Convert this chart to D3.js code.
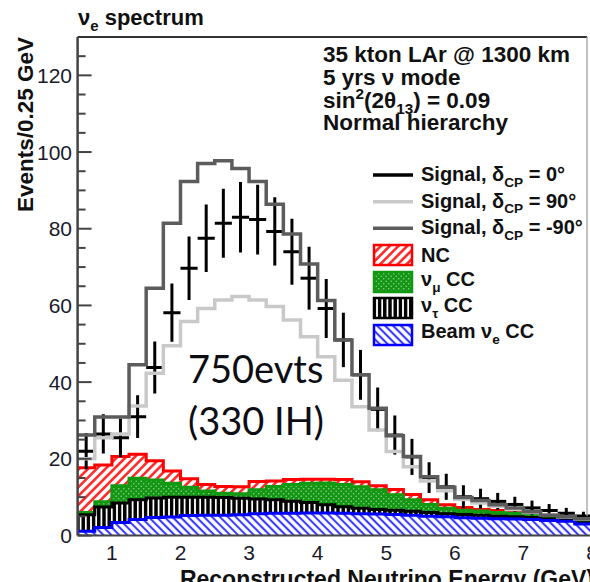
<!DOCTYPE html>
<html><head><meta charset="utf-8">
<script src="https://cdn.jsdelivr.net/npm/d3@7"></script>
<style>body{margin:0;background:#fff} svg{display:block}</style>
</head><body><svg id="c" width="590" height="582"></svg>
<script>
// ---- data ----
const binLow = [0.5,0.75,1.0,1.25,1.5,1.75,2.0,2.25,2.5,2.75,3.0,3.25,3.5,3.75,4.0,4.25,4.5,4.75,5.0,5.25,5.5,5.75,6.0,6.25,6.5,6.75,7.0,7.25,7.5,7.75];
const binWidth = 0.25;
const beamNue = [1.1,2.1,3.4,4.2,4.7,4.8,5.2,5.3,5.3,5.4,5.7,5.8,5.8,5.9,5.9,5.8,5.7,5.6,5.5,5.3,5.0,4.9,4.6,4.5,4.4,4.3,4.2,3.9,3.7,3.0];
const nuTau   = [4.3,5.3,5.1,5.1,5.1,5.2,4.8,4.7,4.6,4.3,3.8,3.5,3.1,2.7,2.1,1.7,1.4,1.2,1.1,1.0,1.0,0.8,0.9,0.8,0.6,0.6,0.5,0.4,0.4,0.3];
const nuMu    = [0.6,1.4,4.5,5.6,4.7,3.6,2.6,1.6,1.1,1.2,2.4,3.5,4.4,5.0,5.7,5.8,5.6,5.1,4.0,3.0,2.1,1.4,1.1,1.1,1.0,0.9,0.8,0.6,0.4,0.3];
const ncBkg   = [11.7,9.6,7.6,6.3,5.0,3.2,2.2,1.7,1.8,1.8,2.2,1.4,1.3,1.1,1.0,1.3,1.3,1.1,1.4,1.4,1.2,0.9,0.7,0.4,0.5,0.4,0.3,0.4,0.1,0.3];
const sigDcp0    = [22.0,26.5,25.5,31.0,43.8,58.1,69.7,77.5,81.4,83.0,82.4,79.3,74.0,67.1,59.2,51.0,41.9,32.9,26.2,20.5,15.1,12.7,10.1,9.6,8.9,8.1,7.2,6.5,5.8,5.1];
const sigDcp0Err = [4.7,5.1,5.0,5.6,6.8,7.6,8.3,8.8,9.0,9.2,9.1,8.9,8.6,8.2,7.7,7.1,6.5,5.7,5.1,4.7,4.0,3.4,3.0,2.6,2.2,2.0,1.9,1.7,1.4,1.1];
const sigDcp90   = [20.0,25.5,26.5,33.8,42.3,49.5,55.8,59.2,61.4,62.3,61.4,59.7,56.2,51.8,46.6,40.5,33.6,27.5,21.9,17.9,14.2,11.7,9.4,8.5,7.6,6.8,6.0,5.3,4.8,4.3];
const sigDcpM90  = [26.2,30.9,30.9,44.5,64.5,81.4,92.3,97.0,97.7,95.7,92.3,86.4,78.6,70.8,61.3,51.0,41.9,33.2,26.0,20.6,15.3,12.6,9.9,9.1,8.0,7.2,6.2,5.3,4.9,4.4];
const yMajorTicks = [0,20,40,60,80,100,120];
const yMinorTicks = [5,10,15,25,30,35,45,50,55,65,70,75,85,90,95,105,110,115,125];
const xMajorTicks = [1,2,3,4,5,6,7,8];
const xTickLabels = ["1","2","3","4","5","6","7","8"];

// ---- setup ----
const svg = d3.select("#c");
const x = d3.scaleLinear().domain([0.5, 8]).range([77.6, 592]);
const y = d3.scaleLinear().domain([0, 130]).range([535.5, 37]);
const ROOTF = "'Liberation Sans', Arial, Helvetica, sans-serif";

const defs = svg.append("defs");
defs.append("clipPath").attr("id","plotclip").append("rect")
  .attr("x", x(0.5)).attr("y", y(130)).attr("width", x(8)-x(0.5)).attr("height", y(0)-y(130));

function hatch(id, bg, col, w, period, angle) {
  const p = defs.append("pattern").attr("id", id).attr("patternUnits","userSpaceOnUse")
    .attr("width", period).attr("height", period)
    .attr("patternTransform", `rotate(${angle})`);
  p.append("rect").attr("width", period).attr("height", period).attr("fill", bg);
  p.append("line").attr("x1", period/2).attr("x2", period/2).attr("y1", -1).attr("y2", period+1)
    .attr("stroke", col).attr("stroke-width", w);
}
hatch("pNC", "#ffffff", "#ff2a2a", 2.6, 6.2, 45);
hatch("pBeam", "#ffffff", "#3a3aff", 2.1, 5.6, -45);
hatch("pTau", "#000000", "#ffffff", 1.8, 5.2, 0);
{
  const p = defs.append("pattern").attr("id","pMu").attr("patternUnits","userSpaceOnUse")
    .attr("width", 5).attr("height", 5);
  p.append("rect").attr("width",5).attr("height",5).attr("fill","#139613");
  p.append("circle").attr("cx",1.2).attr("cy",1.2).attr("r",0.8).attr("fill","#8fcf8f");
  p.append("circle").attr("cx",3.7).attr("cy",3.7).attr("r",0.8).attr("fill","#8fcf8f");
}

// cumulative stack
const cumB = beamNue.map(v=>v);
const cumT = cumB.map((v,i)=>v+nuTau[i]);
const cumG = cumT.map((v,i)=>v+nuMu[i]);
const cumN = cumG.map((v,i)=>v+ncBkg[i]);

const stepPts = vals => vals.flatMap((v,i)=>[[binLow[i], v],[binLow[i]+binWidth, v]]);
const bandPts = (lo, hi) => lo.flatMap((v,i)=>[[binLow[i], v, hi[i]],[binLow[i]+binWidth, v, hi[i]]]);
const area = d3.area().x(d=>x(d[0])).y0(d=>y(d[1])).y1(d=>y(d[2]));
const line = d3.line().x(d=>x(d[0])).y(d=>y(d[1]));

const plot = svg.append("g").attr("clip-path","url(#plotclip)");

// bands
const zero = beamNue.map(()=>0);
plot.append("path").attr("d", area(bandPts(zero, cumB))).attr("fill","url(#pBeam)");
plot.append("path").attr("d", area(bandPts(cumB, cumT))).attr("fill","url(#pTau)");
plot.append("path").attr("d", area(bandPts(cumT, cumG))).attr("fill","url(#pMu)");
plot.append("path").attr("d", area(bandPts(cumG, cumN))).attr("fill","url(#pNC)");
// outlines
[[cumN,"#ff0000"],[cumG,"#119911"],[cumT,"#000000"],[cumB,"#0000ff"]].forEach(([c,col])=>{
  plot.append("path").attr("d", line(stepPts(c))).attr("fill","none")
    .attr("stroke", col).attr("stroke-width", 3);
});

// signal error bars (delta=0)
const eb = plot.append("g").attr("stroke","#000").attr("stroke-width",3);
sigDcp0.forEach((v,i)=>{
  const c = binLow[i] + binWidth/2;
  eb.append("line").attr("x1", x(c)).attr("x2", x(c)).attr("y1", y(v - sigDcp0Err[i])).attr("y2", y(v + sigDcp0Err[i]));
  eb.append("line").attr("x1", x(binLow[i])).attr("x2", x(binLow[i]+binWidth)).attr("y1", y(v)).attr("y2", y(v));
});
// signal histos
plot.append("path").attr("d", line(stepPts(sigDcp90))).attr("fill","none").attr("stroke","#c9c9c9").attr("stroke-width",3.5);
plot.append("path").attr("d", line(stepPts(sigDcpM90))).attr("fill","none").attr("stroke","#5c5c5c").attr("stroke-width",3.5);

// ---- axes / frame ----
const ax = svg.append("g");
ax.append("line").attr("x1", x(0.5)).attr("x2", 587).attr("y1", y(130)).attr("y2", y(130)).attr("stroke","#333").attr("stroke-width",2);
ax.append("line").attr("x1", 587).attr("x2", 587).attr("y1", y(130)).attr("y2", y(5)).attr("stroke","#999").attr("stroke-width",1.2);
ax.append("line").attr("x1", x(0.5)).attr("x2", x(0.5)).attr("y1", y(130)).attr("y2", y(0)).attr("stroke","#444").attr("stroke-width",2.5);
ax.append("line").attr("x1", x(0.5)).attr("x2", 590).attr("y1", y(0)).attr("y2", y(0)).attr("stroke","#444").attr("stroke-width",2);
yMajorTicks.forEach(t=>{
  ax.append("line").attr("x1", x(0.5)).attr("x2", x(0.5)+14).attr("y1", y(t)).attr("y2", y(t)).attr("stroke","#444").attr("stroke-width",2);
  ax.append("text").attr("x", 72).attr("y", y(t)).attr("dy","0.36em").attr("text-anchor","end")
    .attr("font-family", ROOTF).attr("font-size", 21).attr("fill","#1a1a2a").text(t);
});
yMinorTicks.forEach(t=>{
  ax.append("line").attr("x1", x(0.5)).attr("x2", x(0.5)+8).attr("y1", y(t)).attr("y2", y(t)).attr("stroke","#444").attr("stroke-width",2);
});
xMajorTicks.forEach((t,i)=>{
  ax.append("text").attr("x", x(t)).attr("y", 560).attr("text-anchor","middle")
    .attr("font-family", ROOTF).attr("font-size", 21).attr("fill","#1a1a2a").text(xTickLabels[i]);
});

// axis titles
ax.append("text").attr("transform","translate(33,37) rotate(-90)").attr("text-anchor","end")
  .attr("font-family", ROOTF).attr("font-weight","bold").attr("font-size", 22.5).attr("fill","#111").text("Events/0.25 GeV");
ax.append("text").attr("x", 594).attr("y", 587).attr("text-anchor","end")
  .attr("font-family", ROOTF).attr("font-weight","bold").attr("font-size", 23).attr("fill","#111").text("Reconstructed Neutrino Energy (GeV)");

// rich text helper
function rich(g, xx, yy, size, segs) {
  const t = g.append("text").attr("x", xx).attr("y", yy).attr("font-family", ROOTF)
    .attr("font-weight","bold").attr("font-size", size).attr("fill","#111");
  segs.forEach(s=>{
    const sp = t.append("tspan").text(s[0]);
    if (s[1]==="sub") sp.attr("font-size", size*0.68).attr("dy", size*0.28);
    else if (s[1]==="sup") sp.attr("font-size", size*0.68).attr("dy", -size*0.38);
    else if (s[1]==="subback") sp.attr("dy", -size*0.28);
    else if (s[1]==="supback") sp.attr("dy", size*0.38);
  });
  return t;
}

// title
rich(svg, 78, 25, 22, [["ν",null],["e","sub"],[" spectrum","subback"]]);

// top-right text
const tr = svg.append("g");
rich(tr, 323, 62, 22.5, [["35 kton LAr @ 1300 km",null]]);
rich(tr, 323, 85, 22.5, [["5 yrs ν mode",null]]);
rich(tr, 323, 108, 22.5, [["sin",null],["2","sup"],["(2θ","supback"],["13","sub"],[") = 0.09","subback"]]);
rich(tr, 323, 130, 22.5, [["Normal hierarchy",null]]);

// legend
const lg = svg.append("g");
const lx0 = 373, lx1 = 413, tx = 421;
[["#000000",175],["#c9c9c9",201.7],["#5c5c5c",228.3]].forEach(([c,yy])=>{
  lg.append("line").attr("x1",lx0).attr("x2",lx1).attr("y1",yy).attr("y2",yy).attr("stroke",c).attr("stroke-width",3.5);
});
rich(lg, tx, 181, 20, [["Signal, δ",null],["CP","sub"],[" = 0°","subback"]]);
rich(lg, tx, 207.5, 20, [["Signal, δ",null],["CP","sub"],[" = 90°","subback"]]);
rich(lg, tx, 234, 20, [["Signal, δ",null],["CP","sub"],[" = -90°","subback"]]);
[["url(#pNC)","#ff0000",245],["url(#pMu)","#119911",272],["url(#pTau)","#000000",298],["url(#pBeam)","#0000ff",325]].forEach(([f,c,yy])=>{
  lg.append("rect").attr("x",lx0+1).attr("y",yy).attr("width",lx1-lx0-2).attr("height",20)
    .attr("fill",f).attr("stroke",c).attr("stroke-width",2.5);
});
rich(lg, tx, 262, 20, [["NC",null]]);
rich(lg, tx, 286, 20, [["ν",null],["μ","sub"],[" CC","subback"]]);
rich(lg, tx, 312, 20, [["ν",null],["τ","sub"],[" CC","subback"]]);
rich(lg, tx, 338, 20, [["Beam ν",null],["e","sub"],[" CC","subback"]]);

// annotation
svg.append("text").attr("x",188).attr("y",383).attr("font-family","Lato, 'Open Sans', sans-serif")
  .attr("font-size",38).attr("fill","#0d0d14").text("750evts");
svg.append("text").attr("x",188).attr("y",435).attr("font-family","Lato, 'Open Sans', sans-serif")
  .attr("font-size",38).attr("fill","#0d0d14").text("(330 IH)");
</script></body></html>
